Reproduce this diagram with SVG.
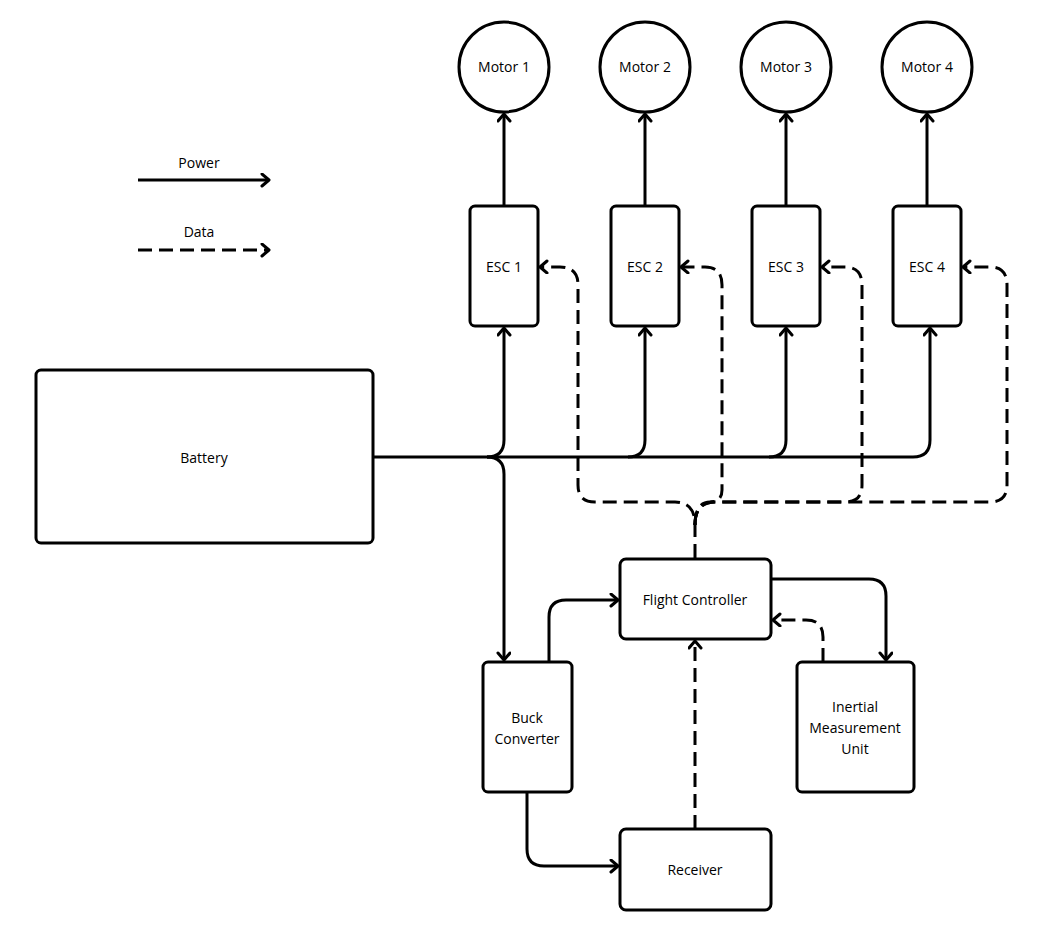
<svg xmlns="http://www.w3.org/2000/svg" width="1055" height="938" viewBox="0 0 1055 938">
<style>
.n{fill:#fff;stroke:#000;stroke-width:3}
.t{font-family:"Open Sans","Liberation Sans",sans-serif;font-size:14px;text-anchor:middle;fill:#000}
.p{fill:none;stroke:#000;stroke-width:3}
.d{fill:none;stroke:#000;stroke-width:3;stroke-dasharray:14,7}
.a{marker-end:url(#ah)}
</style>
<defs>
<marker id="ah" markerUnits="userSpaceOnUse" markerWidth="16" markerHeight="16" refX="9" refY="7" orient="auto">
<path d="M2,1 L9,7 L2,13" fill="none" stroke="#000" stroke-width="3" stroke-linecap="round" stroke-linejoin="round"/>
</marker>
</defs>
<rect width="1055" height="938" fill="#fff"/>
<g id="legend">
<text class="t" x="199" y="168">Power</text>
<path class="p a" d="M138,180 H269"/>
<text class="t" x="199" y="237">Data</text>
<path class="d a" d="M138,250 H269"/>
</g>
<g id="connectors">
<path class="p a" d="M504,206 V114"/>
<path class="p a" d="M645,206 V114"/>
<path class="p a" d="M786,206 V114"/>
<path class="p a" d="M927,206 V114"/>
<path class="p a" d="M373,457 H913 Q930,457 930,440 V328"/>
<path class="p a" d="M487,457 Q504,457 504,440 V328"/>
<path class="p a" d="M628,457 Q645,457 645,440 V328"/>
<path class="p a" d="M769,457 Q786,457 786,440 V328"/>
<path class="p a" d="M487,457 Q504,457 504,474 V660"/>
<path class="d a" d="M695,558 V525 Q695,502 675,502 H595 Q578,502 578,485 V285 Q578,267 560,267 H540"/>
<path class="d a" d="M695,525 Q695,502 710,502 Q722,502 722,490 V285 Q722,267 705,267 H681"/>
<path class="d a" d="M695,525 Q695,502 715,502 H845 Q862,502 862,485 V285 Q862,267 845,267 H822"/>
<path class="d a" d="M695,525 Q695,502 715,502 H990 Q1007,502 1007,485 V285 Q1007,267 990,267 H963"/>
<path class="p a" d="M549,662 V617 Q549,600 566,600 H618"/>
<path class="p a" d="M527,792 V849 Q527,866 544,866 H618"/>
<path class="p a" d="M771,579 H869 Q886,579 886,596 V660"/>
<path class="d a" d="M823,662 V637 Q823,620 806,620 H773"/>
<path class="d a" d="M695,829 V641"/>
</g>
<g id="motor1"><circle class="n" cx="504" cy="67" r="45"/><text class="t" x="504" y="72">Motor 1</text></g>
<g id="motor2"><circle class="n" cx="645" cy="67" r="45"/><text class="t" x="645" y="72">Motor 2</text></g>
<g id="motor3"><circle class="n" cx="786" cy="67" r="45"/><text class="t" x="786" y="72">Motor 3</text></g>
<g id="motor4"><circle class="n" cx="927" cy="67" r="45"/><text class="t" x="927" y="72">Motor 4</text></g>
<g id="esc1"><rect class="n" x="470" y="206" width="68" height="120" rx="5"/><text class="t" x="504" y="272">ESC 1</text></g>
<g id="esc2"><rect class="n" x="611" y="206" width="68" height="120" rx="5"/><text class="t" x="645" y="272">ESC 2</text></g>
<g id="esc3"><rect class="n" x="752" y="206" width="68" height="120" rx="5"/><text class="t" x="786" y="272">ESC 3</text></g>
<g id="esc4"><rect class="n" x="893" y="206" width="68" height="120" rx="5"/><text class="t" x="927" y="272">ESC 4</text></g>
<g id="battery"><rect class="n" x="36" y="370" width="337" height="173" rx="5"/><text class="t" x="204" y="463">Battery</text></g>
<g id="fc"><rect class="n" x="620" y="559" width="151" height="80" rx="6"/><text class="t" x="695" y="605">Flight Controller</text></g>
<g id="buck"><rect class="n" x="483" y="662" width="89" height="130" rx="5"/><text class="t" x="527" y="723">Buck</text><text class="t" x="527" y="744">Converter</text></g>
<g id="imu"><rect class="n" x="797" y="662" width="117" height="130" rx="5"/><text class="t" x="855" y="712">Inertial</text><text class="t" x="855" y="733">Measurement</text><text class="t" x="855" y="754">Unit</text></g>
<g id="receiver"><rect class="n" x="620" y="829" width="151" height="81" rx="6"/><text class="t" x="695" y="875">Receiver</text></g>
</svg>
